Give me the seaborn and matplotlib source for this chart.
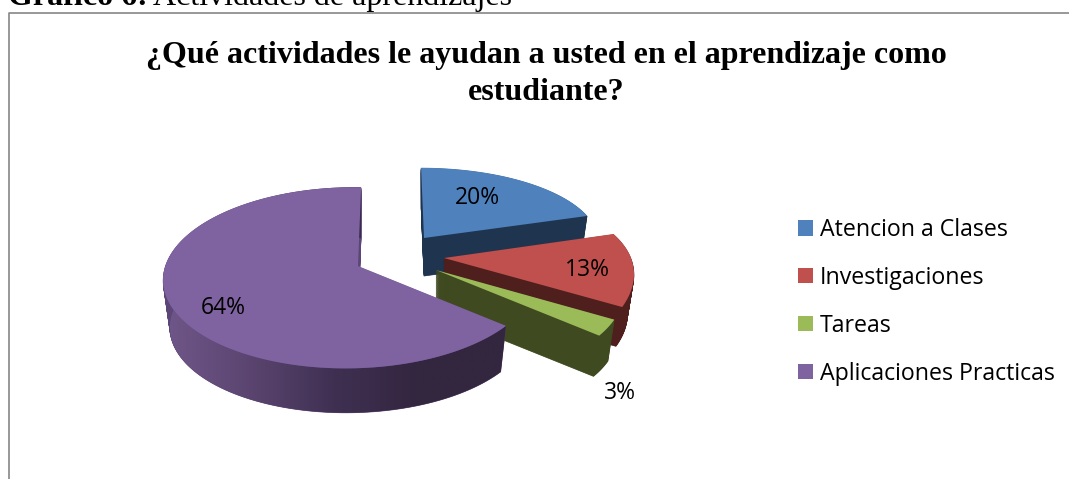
import numpy as np
import matplotlib
matplotlib.use("Agg")
import matplotlib.pyplot as plt
import seaborn as sns
from matplotlib.path import Path
from matplotlib.transforms import Transform
from matplotlib.colors import LinearSegmentedColormap

# --- data ---
categories = ["Atencion a Clases", "Investigaciones", "Tareas", "Aplicaciones Practicas"]
values = [20, 13, 3, 64]
title_text = "¿Qué actividades le ayudan a usted en el aprendizaje como\nestudiante?"
header_bold = "Gráfico 6:"
header_regular = "Actividades de aprendizajes"

# --- style ---
top_colors = ["#4f81bd", "#c0504d", "#9bbb59", "#7f62a0"]
wall_colors = ["#1f344f", "#4f1f1d", "#3f4a21", "#5c4677"]
gradient_colors = ["#70578a", "#5b4570", "#3f3052", "#33263f", "#33263f"]
label_positions = [(477, 198.5), (587, 270.5), (620, 393), (223, 307.5)]
# per-slice projection of the tilted, exploded pie: apex, radii, perspective, depth
views = [
    dict(apex=(424, 238), a=174, b=72, k=0.025, s=-3, m=0.0, depth=38),
    dict(apex=(444, 258), a=187, b=85.6, k=0.33, s=29, m=0.0, depth=41),
    dict(apex=(436, 270), a=187, b=103, k=0.0, s=-30, m=0.0, depth=43),
    dict(apex=(358, 266), a=185, b=89, k=0.13, s=3.5, m=0.04, depth=48),
]


class Tilt(Transform):
    input_dims = output_dims = 2
    is_affine = False
    has_inverse = False

    def __init__(self, apex, a, b, k, s, m, depth, t=0.0):
        super().__init__()
        self.p = (apex, a, b, k, s, m, depth, t)

    def transform_non_affine(self, xy):
        (ax_, ay_), a, b, k, s, m, depth, t = self.p
        xy = np.asarray(xy, float)
        u, v = xy[:, 0], xy[:, 1]
        den = 1 + m * u + k * v
        sc = 1 - 0.035 * t
        return np.column_stack([ax_ + sc * (a * u + s * v) / den,
                                ay_ + depth * t - sc * b * v / den])

    def transform_path_non_affine(self, path):
        # flatten the wedge's curves so the projection stays smooth
        pts = []
        for seg, code in path.iter_bezier():
            if seg.degree >= 1:
                pts.append(seg(np.linspace(0, 1, 17)))
        return Path(self.transform_non_affine(np.vstack(pts)))


sns.set_theme(style="white")
fig = plt.figure(figsize=(10.69, 4.79), dpi=100)
ax = fig.add_axes([0, 0, 1, 1])


def draw_layer(colors, t, zbase, lw=0.0):
    wedges, _ = ax.pie(values, colors=colors, startangle=90, counterclock=False,
                       wedgeprops=dict(linewidth=lw))
    for i, w in enumerate(wedges):
        w.set_edgecolor(colors[i])
        w.set_transform(Tilt(**views[i], t=t) + ax.transData)
        w.set_zorder(10 * (i + 1) + zbase)
    return wedges


for t in np.linspace(1, 0, 60)[:-1]:
    draw_layer(wall_colors, t, 1 - t, lw=0.5)
top = draw_layer(top_colors, 0.0, 3)

# purple outer wall shading
ang = np.deg2rad(np.linspace(top[3].theta1, top[3].theta2, 400))
arc = np.column_stack([np.cos(ang), np.sin(ang)])
T0, T1 = Tilt(**views[3], t=0.0), Tilt(**views[3], t=1.0)
wall = np.vstack([T0.transform_non_affine(arc), T1.transform_non_affine(arc)[::-1]])
cmap = LinearSegmentedColormap.from_list("wall", gradient_colors)
x0, x1 = wall[:, 0].min(), wall[:, 0].max()
y0, y1 = wall[:, 1].min(), wall[:, 1].max()
im = ax.imshow(np.linspace(0, 1, 256)[None, :], cmap=cmap, aspect="auto",
               extent=[x0, x1, y1, y0], zorder=42)
im.set_clip_path(Path(np.vstack([wall, wall[:1]])), transform=ax.transData)

# percentage labels
for v, (x, y) in zip(values, label_positions):
    ax.text(x, y, f"{v}%", ha="center", va="center", color="black", zorder=60,
            family="Open Sans", fontsize=16.5)

# titles
ax.text(546, 74, title_text, ha="center", va="center", family="Liberation Serif",
        fontweight="bold", fontsize=23, color="black", linespacing=1.40, zorder=60)
ax.text(8, 5, header_bold, ha="left", va="baseline", family="Liberation Serif",
        fontweight="bold", fontsize=23, color="black")
ax.text(153, 5, header_regular, ha="left", va="baseline", family="Liberation Serif",
        fontsize=23, color="black")

# chart frame
ax.plot([8.5, 8.5, 1069], [479, 12.5, 12.5], color="#868686", lw=1.2, zorder=5)

# legend
leg = ax.legend(top, categories, loc="upper left", bbox_to_anchor=(798 / 1069, 1 - 218 / 479),
                bbox_transform=ax.transAxes, frameon=False,
                prop=dict(family="Open Sans", size=16.7),
                handlelength=0.65, handleheight=0.65, handletextpad=0.3,
                labelspacing=1.03, borderpad=0, borderaxespad=0)
for text in leg.get_texts():
    text.set_color("black")

ax.set_aspect("auto")
ax.set_xlim(0, 1069)
ax.set_ylim(479, 0)
ax.set_axis_off()
fig.savefig("out.png", dpi=100, facecolor="white")
